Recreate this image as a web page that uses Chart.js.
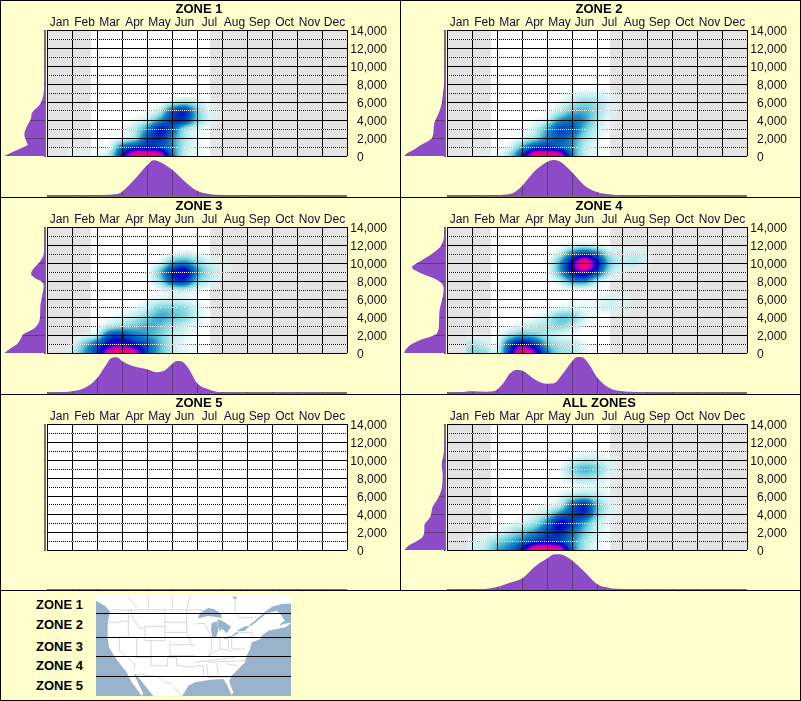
<!DOCTYPE html>
<html><head><meta charset="utf-8"><title>Zones</title>
<script src="https://cdn.jsdelivr.net/npm/chart.js@4"></script>
<style>
html,body{margin:0;padding:0;background:#ffffcc;}
#page{position:relative;width:801px;height:701px;overflow:hidden;background:#ffffcc;font-family:"Liberation Sans",Arial,sans-serif;}
canvas{position:absolute;}
.rule{position:absolute;background:#000;}
.zl{position:absolute;left:36px;font:bold 13px "Liberation Sans",Arial,sans-serif;color:#000;line-height:15px;}
svg{position:absolute;left:0;top:0;}
</style></head><body><div id="page"></div>
<script>
const months=["Jan","Feb","Mar","Apr","May","Jun","Jul","Aug","Sep","Oct","Nov","Dec"];
const yTickLabels=["0","2,000","4,000","6,000","8,000","10,000","12,000","14,000"];
const zoneNames=["ZONE 1","ZONE 2","ZONE 3","ZONE 4","ZONE 5","ALL ZONES"];
const legendNames=["ZONE 1","ZONE 2","ZONE 3","ZONE 4","ZONE 5"];
const seasonStart=1.76, seasonEnd=6.52;
const heatCols=[1,1.5,2,2.5,3,3.5,4,4.5,5,5.5,6,6.5,7,7.5,8];
const heatRows=[0,1000,2000,3000,4000,5000,6000,7000,8000,9000,10000,11000,12000];

const zone1Heat=[
[.02,.03,.03,.12,.55,.97,1,.92,.38,.1,.03,.01,.01,0,0],
[.01,.01,.01,.04,.35,.5,.55,.5,.32,.1,.03,.01,0,0,0],
[0,0,0,.01,.05,.15,.42,.52,.32,.13,.04,.01,0,0,0],
[0,0,0,0,.02,.1,.3,.55,.42,.15,.05,.01,0,0,0],
[0,0,0,0,0,.03,.1,.28,.48,.48,.2,.05,0,0,0],
[0,0,0,0,0,0,.02,.1,.4,.5,.2,.04,.01,0,0],
[0,0,0,0,0,0,0,.01,.08,.14,.08,.02,0,0,0]];
const zone2Heat=[
[.01,.02,.03,.15,.5,.97,1,.92,.35,.1,.03,.01,0,0,0],
[.01,.01,.01,.05,.25,.48,.52,.45,.3,.1,.03,0,0,0,0],
[0,0,0,0,.05,.15,.32,.42,.32,.15,.05,0,0,0,0],
[0,0,0,0,.01,.08,.25,.45,.42,.22,.08,.02,0,0,0],
[0,0,0,0,0,.02,.08,.28,.35,.28,.12,.03,0,0,0],
[0,0,0,0,0,0,.02,.1,.22,.24,.15,.05,0,0,0],
[0,0,0,0,0,0,0,.03,.1,.16,.12,.05,0,0,0],
[0,0,0,0,0,0,0,0,.03,.05,.05,.02,0,0,0]];
const zone3Heat=[
[.08,.28,.5,.88,.98,.88,.45,.24,.1,.04,.01,0,0,0,0],
[.03,.2,.4,.62,.68,.56,.42,.24,.1,.03,.01,0,0,0,0],
[0,.03,.1,.42,.46,.36,.28,.2,.1,.05,.01,0,0,0,0],
[0,0,.01,.1,.16,.2,.25,.22,.14,.08,.02,0,0,0,0],
[0,0,0,.02,.05,.1,.18,.26,.22,.17,.07,.01,0,0,0],
[0,0,0,0,0,.03,.08,.18,.18,.15,.06,.01,0,0,0],
[0,0,0,0,0,0,.02,.05,.06,.05,.02,0,0,0,0],
[0,0,0,0,0,0,0,.03,.08,.1,.04,.01,0,0,0],
[0,0,0,0,0,0,.01,.14,.42,.48,.2,.08,.01,0,0],
[0,0,0,0,0,0,.02,.2,.52,.65,.3,.12,.04,0,0],
[0,0,0,0,0,0,0,.05,.25,.32,.18,.07,.02,0,0],
[0,0,0,0,0,0,0,0,.04,.08,.05,.01,0,0,0]];
const zone4Heat=[
[.18,.15,.08,.52,.98,.75,.35,.16,.12,.04,0,0,0,0,0],
[.12,.08,.04,.42,.65,.5,.22,.12,.1,.03,0,0,0,0,0],
[.02,.01,.01,.14,.24,.2,.12,.06,.03,0,0,0,0,0,0],
[0,0,0,.02,.06,.1,.13,.17,.1,.02,0,0,0,0,0],
[0,0,0,0,0,.03,.08,.2,.18,.06,.01,0,0,0,0],
[0,0,0,0,0,0,.01,.04,.06,.03,.03,.06,.03,0,0],
[0,0,0,0,0,0,0,0,.01,.02,.03,.06,.03,0,0],
[0,0,0,0,0,0,0,.01,.02,.02,.01,0,0,0,0],
[0,0,0,0,0,0,0,.08,.28,.32,.12,.02,0,0,0],
[0,0,0,0,0,0,.02,.25,.58,.72,.45,.14,.03,0,0],
[0,0,0,0,0,0,.01,.25,.62,.98,.6,.2,.08,.1,.03],
[0,0,0,0,0,0,0,.1,.35,.5,.35,.12,.06,.08,.03],
[0,0,0,0,0,0,0,0,.05,.08,.05,.01,0,0,0]];
const zone5Heat=[];
const allHeat=[
[.06,.1,.25,.35,.58,.97,1,.92,.38,.12,.04,.01,0,0,0],
[.03,.06,.17,.24,.35,.5,.55,.5,.32,.14,.04,.01,0,0,0],
[0,.01,.04,.12,.2,.3,.45,.55,.38,.2,.07,.02,0,0,0],
[0,0,0,.02,.06,.14,.32,.6,.48,.28,.1,.02,0,0,0],
[0,0,0,0,.02,.06,.14,.32,.46,.5,.2,.05,0,0,0],
[0,0,0,0,0,0,.03,.1,.36,.5,.22,.06,.01,0,0],
[0,0,0,0,0,0,0,.04,.12,.16,.1,.03,0,0,0],
[0,0,0,0,0,0,0,0,.02,.04,.04,.01,0,0,0],
[0,0,0,0,0,0,0,.01,.1,.14,.1,.03,0,0,0],
[0,0,0,0,0,0,0,.02,.15,.24,.18,.06,0,0,0],
[0,0,0,0,0,0,0,0,.05,.1,.08,.03,0,0,0],
[0,0,0,0,0,0,0,0,0,.02,.02,0,0,0,0]];

const zone1Month=[0,1,2,2.5,2.9,3,3.5,3.9,4,4.25,4.5,5,5.5,6,6.5,7,8,9,10,11,12];
const zone1Season=[1,1,3,4,8,13,50,85,92,108,104,80,45,16,6,3,1,.5,1,1,.5];
const zone2Month=[0,1,2,2.5,2.75,3,3.5,4,4.25,4.5,5,5.5,6,6.5,7,8,9,10,11,12];
const zone2Season=[1,1,3,6,14,30,75,103,109,105,72,32,12,5,2,1,1,1.5,1.5,1];
const zone3Month=[0,.5,1,1.5,2,2.3,2.6,2.8,3,3.5,4,4.4,4.7,5,5.2,5.4,5.7,6,6.5,7,8,9,10,11,12];
const zone3Season=[1,2,5,15,45,78,107,108,97,80,72,63,68,88,97,95,70,30,10,2,1,1,1.5,1,1];
const zone4Month=[0,.5,1,1.5,1.9,2,2.3,2.5,2.75,3,3.5,4,4.3,4.6,5,5.2,5.4,5.7,6,6.5,7,7.5,8,9,10,11,12];
const zone4Season=[.5,2,5,4,6,10,35,58,70,68,42,28,30,55,95,109,108,85,48,15,5,3,2,1,1,.5,.5];
const zone5Month=[];
const zone5Season=[];
const allMonth=[0,1,1.5,2,2.5,3,3.5,4,4.3,4.5,4.8,5,5.5,6,6.5,7,8,9,10,11,12];
const allSeason=[1,2,3,9,22,35,70,95,108,108,100,90,55,18,6,3,1.5,1,2,2,1];

const zone1Elev=[0,500,1000,1250,1650,2400,3300,4200,4800,5700,7000,10000,14000];
const zone1Share=[122,94,64,52,56,62,54,42,39,16,4,1,.5];
const zone2Elev=[0,300,700,1200,1700,2000,3000,3800,4500,5500,7000,8000,10000,14000];
const zone2Share=[122,114,94,74,49,39,34,31,22,12,6,3,1,.5];
const zone3Elev=[0,500,1000,1500,2100,2700,3700,5100,6300,7400,7900,8300,8800,9400,10100,11000,12500,14000];
const zone3Share=[122,104,84,74,64,34,16,14,9,4,9,29,42,34,16,4,2,.5];
const zone4Elev=[0,300,900,1450,1800,2200,3300,4800,5900,7000,7700,8300,8900,9500,10100,10900,11600,12400,13300,14000];
const zone4Share=[122,119,104,74,44,24,18,16,9,4,9,34,74,99,79,44,19,6,2,.5];
const zone5Elev=[];
const zone5Share=[];
const allElev=[0,500,1000,1400,2200,2700,3700,4800,5900,7000,8500,9400,10700,12500,14000];
const allShare=[122,109,84,69,62,62,44,37,19,9,7,10,4,1,.5];

const panelX=[0,400,0,400,0,400];
const panelY=[0,0,197,197,394,394];
const panelHeat=[zone1Heat,zone2Heat,zone3Heat,zone4Heat,zone5Heat,allHeat];
const panelMonth=[zone1Month,zone2Month,zone3Month,zone4Month,zone5Month,allMonth];
const panelSeason=[zone1Season,zone2Season,zone3Season,zone4Season,zone5Season,allSeason];
const panelElev=[zone1Elev,zone2Elev,zone3Elev,zone4Elev,zone5Elev,allElev];
const panelShare=[zone1Share,zone2Share,zone3Share,zone4Share,zone5Share,allShare];
const PURPLE="#8e4bc8", DARK="#5c3a7c", RULE="#76765a";

const colorStops=[
[0,255,255,255,0],[.02,225,247,247,.5],[.05,210,243,243,.85],[.1,175,233,236,.88],[.2,100,205,215,.95],
[.3,30,140,195,1],[.4,0,100,195,1],[.5,0,55,190,1],[.58,0,10,190,1],[.65,30,0,210,1],[.72,90,0,215,1],[.8,190,0,190,1],[.9,240,0,130,1],[1,255,0,110,1]];
function colorAt(v){
  v=Math.max(0,Math.min(1,v));
  for(let i=1;i<colorStops.length;i++){
    const a=colorStops[i-1],b=colorStops[i];
    if(v<=b[0]){const t=(v-a[0])/(b[0]-a[0]);return [1,2,3,4].map(j=>a[j]+(b[j]-a[j])*t);}
  }
  return colorStops[colorStops.length-1].slice(1);
}
function cr(p0,p1,p2,p3,t){return .5*(2*p1+(p2-p0)*t+(2*p0-5*p1+4*p2-p3)*t*t+(3*p1-p0-3*p2+p3)*t*t*t);}
function sampler(grid){
  const g=(r,c)=>{ if(r<0) r=0; const row=grid[r]; if(!row) return 0; return row[c]===undefined?(c<0?row[0]*.3:0):row[c]; };
  return (col,row)=>{
    const c0=Math.floor(col),r0=Math.floor(row),tc=col-c0,tr=row-r0,vals=[];
    for(let r=-1;r<=2;r++) vals.push(cr(g(r0+r,c0-1),g(r0+r,c0),g(r0+r,c0+1),g(r0+r,c0+2),tc));
    return cr(vals[0],vals[1],vals[2],vals[3],tr);
  };
}
function makePatch(sample,c,r,w,h,pxX,pxY){
  const cv=document.createElement('canvas');cv.width=w;cv.height=h;
  const cx=cv.getContext('2d'),im=cx.createImageData(w,h);
  for(let py=0;py<h;py++)for(let px=0;px<w;px++){
    const col=c+(px+.5-w/2)/pxX, row=r-(py+.5-h/2)/pxY;
    const rgba=colorAt(sample(col,row)),o=(py*w+px)*4;
    im.data[o]=rgba[0];im.data[o+1]=rgba[1];im.data[o+2]=rgba[2];im.data[o+3]=rgba[3]*255;
  }
  cx.putImageData(im,0,0);return cv;
}
const seasonPlugin={id:'season',beforeDraw(chart,a,o){
  const {ctx,chartArea:ar,scales}=chart;
  ctx.save();ctx.fillStyle='#fff';ctx.fillRect(ar.left,ar.top,ar.width,ar.height);
  if(o.active){ctx.fillStyle='#e3e3e3';
    const a1=Math.round(scales.x.getPixelForValue(seasonStart)),a2=Math.round(scales.x.getPixelForValue(seasonEnd));
    ctx.fillRect(ar.left,ar.top,a1-ar.left,ar.height);ctx.fillRect(a2,ar.top,ar.right-a2,ar.height);}
  ctx.restore();}};
const atopPlugin={id:'atop',
  beforeDatasetsDraw(c,a,o){const {ctx,chartArea:ar}=c;ctx.save();ctx.fillStyle=RULE;
    if(o.side==='bottom')ctx.fillRect(ar.left,ar.bottom-1,ar.width,2);else ctx.fillRect(ar.right-1,ar.top,2,ar.height+1);ctx.restore();},
  afterDatasetsDraw(c){c.ctx.globalCompositeOperation='source-atop';},
  afterDraw(c){c.ctx.globalCompositeOperation='source-over';}};
const page=document.getElementById('page');
function addCanvas(l,t,w,h){const c=document.createElement('canvas');c.width=w;c.height=h;c.style.left=l+'px';c.style.top=t+'px';c.style.width=w+'px';c.style.height=h+'px';page.appendChild(c);return c;}
const base={responsive:false,animation:false,devicePixelRatio:1,events:[],plugins:{legend:{display:false},tooltip:{enabled:false}}};
const noFit0H=s=>{s.height=0;},noFit0W=s=>{s.width=0;};
const isOdd=c=>c.tick&&c.tick.value%2000!==0;

panelHeat.forEach((grid,i)=>{
  const px=panelX[i],py=panelY[i];
  const points=[],styles=[],sample=sampler(grid);
  grid.forEach((row,r)=>row.forEach((v,c)=>{
    points.push({x:heatCols[c],y:heatRows[r]});
    const w=(heatCols[c]*25)%1?13:12, h=r%2?8:10;
    styles.push(makePatch(sample,c,r,w,h,12.5,9));
  }));
  // bottom marginal
  new Chart(addCanvas(px+47,py+150,301,49),{type:'line',plugins:[atopPlugin],
    data:{datasets:[{data:panelMonth[i].map((m,k)=>({x:m,y:panelSeason[i][k]})),backgroundColor:PURPLE,borderWidth:0,fill:'origin',pointRadius:0,cubicInterpolationMode:'monotone'}]},
    options:{...base,plugins:{...base.plugins,atop:{side:'bottom'}},layout:{padding:{left:0,right:1,top:10,bottom:3}},
      scales:{x:{type:'linear',min:0,max:12,afterFit:noFit0H,ticks:{display:false,stepSize:1},grid:{z:1,color:DARK,drawTicks:false},border:{display:false}},
              y:{type:'linear',min:0,max:109,display:false}}}});
  // left marginal
  new Chart(addCanvas(px+2,py+20,46,140),{type:'line',plugins:[atopPlugin],
    data:{datasets:[{data:panelElev[i].map((e,k)=>({x:panelShare[i][k],y:e})),backgroundColor:PURPLE,borderWidth:0,fill:'origin',pointRadius:0,cubicInterpolationMode:'monotone',indexAxis:'y'}]},
    options:{...base,indexAxis:'y',plugins:{...base.plugins,atop:{side:'right'}},layout:{padding:{left:2,right:3,top:10,bottom:4}},
      scales:{x:{type:'linear',min:0,max:123,reverse:true,display:false},
              y:{type:'linear',min:0,max:14000,position:'right',afterFit:noFit0W,ticks:{display:false,stepSize:2000},grid:{z:1,color:DARK,drawTicks:false},border:{display:false}}}}});
  // main heat panel
  new Chart(addCanvas(px,py,398,197),{type:'scatter',plugins:[seasonPlugin],
    data:{datasets:[{data:points,pointStyle:c=>styles[c.dataIndex],pointRadius:4,hitRadius:0,showLine:false}]},
    options:{...base,layout:{padding:{left:0,right:0,top:0,bottom:41}},
      plugins:{...base.plugins,season:{active:grid.length>0},
        title:{display:true,text:zoneNames[i],color:'#000',font:{family:'"Liberation Sans"',size:13,weight:'bold',lineHeight:1},padding:{top:3,bottom:1}}},
      scales:{
        x:{type:'linear',position:'bottom',min:0,max:12,afterFit:noFit0H,ticks:{display:false,stepSize:1},grid:{z:1,color:'#000',drawTicks:false},border:{display:false}},
        xm:{type:'category',position:'top',labels:months,offset:true,afterFit:s=>{s.height=13;},grid:{display:false,drawTicks:false},border:{display:false},
            ticks:{autoSkip:false,maxRotation:0,padding:0,color:'#1a0a30',font:{family:'"Liberation Sans"',size:12}}},
        yl:{type:'linear',position:'left',min:0,max:14000,afterFit:s=>{s.width=47;},grid:{display:false,drawTicks:false},border:{display:false},ticks:{display:false}},
        yr:{type:'linear',position:'right',weight:10,min:0,max:14000,afterFit:s=>{s.width=11;},grid:{display:false,drawTicks:false},border:{display:false},ticks:{display:false}},
        y:{type:'linear',position:'right',min:0,max:14000,afterFit:s=>{s.width=40;},
           grid:{z:-1,drawTicks:false,color:c=>isOdd(c)?'#000':'rgba(0,0,0,0)'},
           border:{display:false,dash:[1,1]},
           ticks:{stepSize:1000,autoSkip:false,padding:3,labelOffset:2,crossAlign:'far',color:'#10101a',font:{family:'"Liberation Sans"',size:12},
             callback:v=>v%2000?'':(v===0?yTickLabels[0]+'\u00A0'.repeat(7):yTickLabels[v/2000])}},
        yw:{type:'linear',position:'right',min:0,max:14000,afterFit:noFit0W,
           grid:{z:1,drawTicks:false,color:c=>isOdd(c)?'#fff':'#000'},
           border:{display:false,dash:c=>isOdd(c)?[1,1]:[],dashOffset:1},ticks:{display:false,stepSize:1000,autoSkip:false}}
      }}});
});
// frame rules
[[0,0,801,1],[0,700,801,1],[0,0,1,701],[800,0,1,701],[400,0,1,591],[0,197,801,1],[0,394,801,1],[0,590,801,1]].forEach(r=>{
  const d=document.createElement('div');d.className='rule';d.style.cssText=`left:${r[0]}px;top:${r[1]}px;width:${r[2]}px;height:${r[3]}px`;page.appendChild(d);});
const legendY=[597,617,639,658,678];
legendNames.forEach((n,i)=>{const d=document.createElement('div');d.className='zl';d.textContent=n;d.style.top=legendY[i]+'px';page.appendChild(d);});
// locator map
const land="3,6 590,6 590,28 560,30 530,38 515,55 522,56 545,50 556,60 570,80 560,86 552,95 566,90 590,85 572,100 545,105 520,110 500,125 497,134 470,145 465,165 455,185 450,205 430,225 410,245 402,262 415,295 410,303 395,270 385,255 345,257 300,265 280,275 265,300 262,306 175,306 122,240 118,242 145,300 140,305 110,265 95,235 75,210 60,190 42,160 38,130 38,90 42,65 45,52 30,35 10,25 3,20";
const lakes=["310,66 322,52 340,42 358,46 378,58 380,72 358,68 340,66 322,70 312,74","350,88 366,82 370,105 364,130 352,128 348,108","368,74 388,84 408,98 395,118 382,104 374,112 368,92","385,130 410,125 425,115 430,118 405,132 388,135","425,110 450,97 465,95 450,110 430,112","412,8 428,8 422,15 418,15"];
const borders=["48,48 322,48 322,60","100,8 125,42","160,8 160,47","232,8 232,47","285,8 275,47","40,85 65,85 100,80","100,48 100,128","108,50 115,75 135,105 150,100","150,97 210,97","210,50 210,140","210,85 275,85","150,97 150,140 210,140","73,130 73,170 118,208 120,225","40,130 125,130 125,190","168,140 168,215","120,190 168,190","168,215 218,215 218,190","225,142 225,185","210,115 275,115","275,50 275,115 290,152","225,152 300,152","225,185 300,185","218,190 245,190 245,215 300,220","125,240 170,245 195,250 210,265 230,270 250,295 262,306","300,90 328,88 350,130","300,130 350,130 350,165 340,185","375,130 375,165","400,135 400,165","340,185 375,165 410,170","410,130 410,165 450,165","420,115 470,115 470,130","300,205 420,190","340,205 450,200","335,210 340,250","365,208 370,250","395,210 430,215","340,250 400,250","300,215 325,215 325,250","420,15 420,60 435,72 475,70"];
const svg=`<svg width="801" height="701" xmlns="http://www.w3.org/2000/svg"><clipPath id="mc"><rect x="96" y="596" width="195" height="100"/></clipPath>
<rect x="96" y="596" width="195" height="100" fill="#9ab3cd"/>
<g clip-path="url(#mc)"><g transform="translate(95,594) scale(.33333)"><polygon points="${land}" fill="#fff"/>
<polyline points="465,95 490,75 525,45" fill="none" stroke="#9ab3cd" stroke-width="5"/>
${lakes.map(p=>`<polygon points="${p}" fill="#9ab3cd"/>`).join('')}
${borders.map(p=>`<polyline points="${p}" fill="none" stroke="#d2d2d2" stroke-width="2.6"/>`).join('')}
</g></g>
${[613,637,656,676].map(y=>`<rect x="96" y="${y}" width="195" height="1" fill="#000"/>`).join('')}</svg>`;
const holder=document.createElement('div');holder.innerHTML=svg;page.appendChild(holder);
</script></body></html>
